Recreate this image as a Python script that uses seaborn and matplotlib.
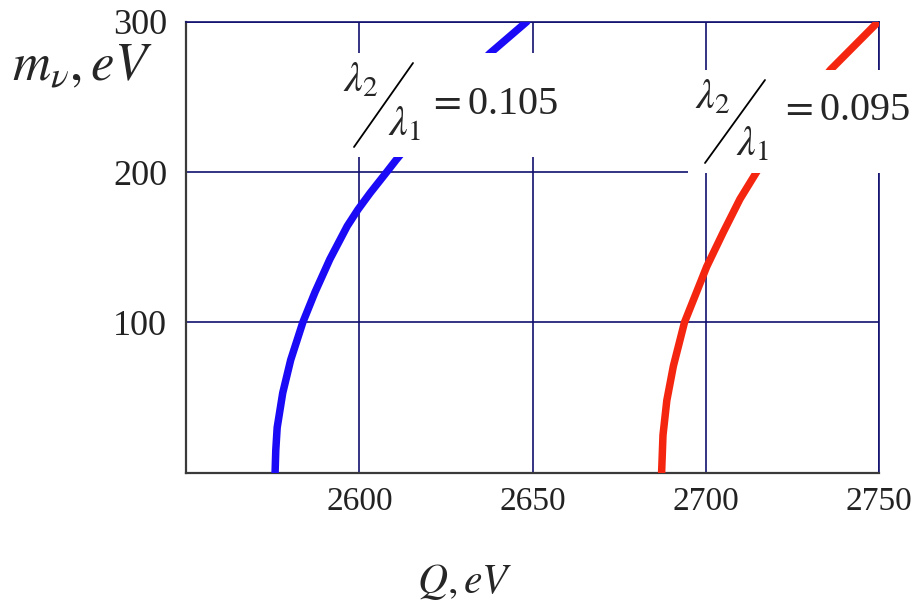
import matplotlib
matplotlib.use("Agg")
import matplotlib.pyplot as plt
from matplotlib.patches import Rectangle
from matplotlib.lines import Line2D
import pandas as pd
import seaborn as sns

# Neutrino mass versus Q-value for two lambda ratios
m_blue = [0, 15, 30, 53, 75, 100, 120, 142, 164, 175, 186, 200, 208, 240, 260, 279, 300]
q_blue = [2575.7, 2575.9, 2576.3, 2577.9, 2580.2, 2583.7, 2587.2, 2591.5, 2596.5,
          2599.6, 2603.1, 2607.9, 2610.6, 2622.0, 2629.5, 2637.7, 2648.3]
m_red = [0, 25, 48, 71, 100, 126, 137, 160, 182, 200, 235, 268, 300]
q_red = [2687.2, 2687.6, 2688.7, 2690.6, 2693.8, 2698.3, 2700.2, 2705.0, 2709.8,
         2714.6, 2724.5, 2735.9, 2749.7]
ratios = ["0.105", "0.095"]
x_ticks = [2600, 2650, 2700, 2750]
y_ticks = [100, 200, 300]

df = pd.concat([
    pd.DataFrame({"Q": q_blue, "m": m_blue, "ratio": ratios[0]}),
    pd.DataFrame({"Q": q_red, "m": m_red, "ratio": ratios[1]}),
])

sns.set_style("white")
plt.rcParams["font.family"] = ["Liberation Serif", "DejaVu Serif"]
plt.rcParams["mathtext.fontset"] = "stix"

W, H = 922, 605
fig = plt.figure(figsize=(W / 100, H / 100), dpi=100)
ax = fig.add_axes([186 / W, 1 - 472.7 / H, (879.3 - 186) / W, (472.7 - 21.7) / H])

navy = "#10106e"
sns.lineplot(data=df, x="Q", y="m", hue="ratio", sort=False, estimator=None,
             palette={ratios[0]: "#1a0af5", ratios[1]: "#f5260f"},
             lw=5.4, legend=False, ax=ax, zorder=3)

ax.set_xlim(2550, 2750)
ax.set_ylim(0, 300)
ax.set_xticks(x_ticks)
ax.set_yticks(y_ticks)
ax.grid(True, color=navy, lw=1.2)
ax.set_xlabel("")
ax.set_ylabel("")
ax.tick_params(axis="x", length=0, pad=10, labelsize=24, labelcolor="#222222")
ax.tick_params(axis="y", length=13.5, width=1.0, color=navy, pad=0,
               labelsize=26, labelcolor="#222222")
for side in ["left", "bottom"]:
    ax.spines[side].set_color("#3a3a3a")
    ax.spines[side].set_linewidth(1.6)
for side in ["top", "right"]:
    ax.spines[side].set_color(navy)
    ax.spines[side].set_linewidth(1.2)


def fx(px):
    return px / W


def fy(py):
    return 1 - py / H


# Axis titles
fig.text(fx(12), fy(80), r"$m_{\nu}, eV$", fontsize=38, ha="left", va="baseline")
fig.text(fx(465), fy(593), r"$Q, eV$", fontsize=30, ha="center", va="baseline")

# Ratio labels on white boxes
labels = [
    dict(box=(340, 53, 565, 157), l2=(343, 62), slash=((354, 147), (413, 63)),
         l1=(388, 106), eq=(428, 105), text=ratios[0]),
    dict(box=(688, 70, 922, 173), l2=(695, 79), slash=((705, 163), (765, 80)),
         l1=(736, 126), eq=(780, 110), text=ratios[1]),
]
for lab in labels:
    x0, y0, x1, y1 = lab["box"]
    fig.add_artist(Rectangle((fx(x0), fy(y1)), fx(x1) - fx(x0), fy(y0) - fy(y1),
                             transform=fig.transFigure, facecolor="white",
                             edgecolor="none", zorder=1))
    (sx0, sy0), (sx1, sy1) = lab["slash"]
    fig.add_artist(Line2D([fx(sx0), fx(sx1)], [fy(sy0), fy(sy1)],
                          transform=fig.transFigure, color="black", lw=1.3, zorder=2))
    fig.text(fx(lab["l2"][0]), fy(lab["l2"][1]), r"$\lambda_2$", fontsize=30,
             ha="left", va="top", zorder=3)
    fig.text(fx(lab["l1"][0]), fy(lab["l1"][1]), r"$\lambda_1$", fontsize=30,
             ha="left", va="top", zorder=3)
    fig.text(fx(lab["eq"][0]), fy(lab["eq"][1]), r"$= $" + lab["text"], fontsize=29,
             ha="left", va="center", zorder=3)

fig.savefig("out.png", dpi=100, facecolor="white")
